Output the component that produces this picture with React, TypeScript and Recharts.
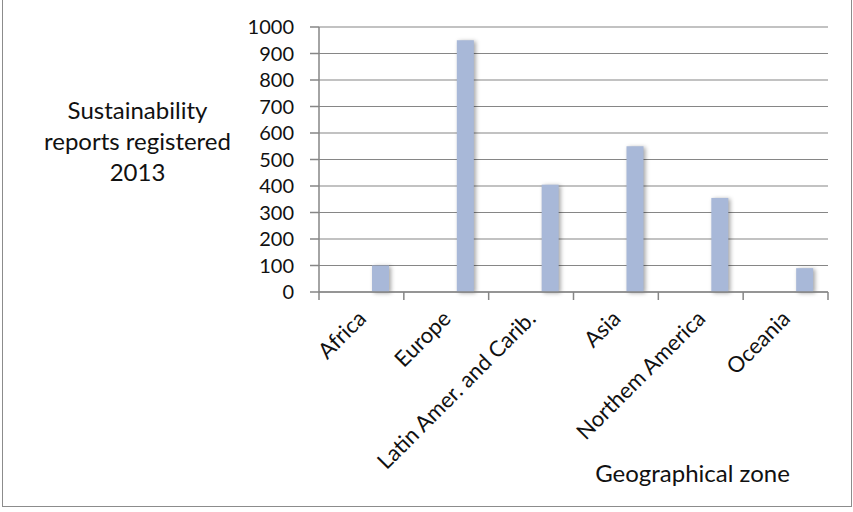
import { BarChart, Bar, XAxis, YAxis, CartesianGrid } from 'recharts';

const categories = ['Africa', 'Europe', 'Latin Amer. and Carib.', 'Asia', 'Northem America', 'Oceania'];
const reports = [100, 950, 405, 550, 355, 90];
const yTicks = [0, 100, 200, 300, 400, 500, 600, 700, 800, 900, 1000];

const data = categories.map((zone, i) => ({ zone, s1: null, s2: null, reports: reports[i] }));

const W = 853;
const H = 512;
const MARGIN = { top: 27, right: 25, left: 0, bottom: 0 };
const Y_AXIS_W = 319;
const X_AXIS_H = 220;
const PLOT_W = W - MARGIN.left - MARGIN.right - Y_AXIS_W;
const FONT = 'Lato, "Open Sans", sans-serif';
const AXIS = '#868686';

function CategoryTick({ x, y, payload, index }) {
  const bw = PLOT_W / categories.length;
  const last = index === categories.length - 1;
  return (
    <g>
      <line x1={x - bw / 2} x2={x - bw / 2} y1={y} y2={y + 8} stroke={AXIS} strokeWidth={1.5} />
      {last && <line x1={x + bw / 2} x2={x + bw / 2} y1={y} y2={y + 8} stroke={AXIS} strokeWidth={1.5} />}
      <text
        x={x + 6}
        y={y + 28}
        textAnchor="end"
        transform={`rotate(-45 ${x + 6} ${y + 28})`}
        fontSize={22}
        fontFamily={FONT}
        fill="#111"
      >
        {payload.value}
      </text>
    </g>
  );
}

function ShadowBar({ x, y, width, height, fill }) {
  if (!height) return null;
  return (
    <rect
      x={x}
      y={y}
      width={width}
      height={height}
      fill={fill}
      style={{ filter: 'drop-shadow(2px 1px 2px rgba(0,0,0,0.35))' }}
    />
  );
}

export default function App() {
  return (
    <div
      style={{
        position: 'absolute',
        left: 0,
        top: 0,
        width: W,
        height: H,
        background: '#fff',
        fontFamily: FONT,
      }}
    >
      <div
        style={{
          position: 'absolute',
          left: 2,
          top: -2,
          width: W - 5,
          height: H - 5,
          borderLeft: '1.5px solid #8c8c8c',
          borderRight: '1.5px solid #8c8c8c',
          borderBottom: '1.5px solid #8c8c8c',
          borderTop: '1px solid #c8c8c8',
        }}
      />
      <div
        style={{
          position: 'absolute',
          left: 25,
          top: 94,
          width: 225,
          textAlign: 'center',
          fontSize: 24,
          lineHeight: '31px',
          color: '#111',
        }}
      >
        Sustainability
        <br />
        reports registered
        <br />
        2013
      </div>
      <div
        style={{
          position: 'absolute',
          left: 560,
          top: 458,
          width: 265,
          textAlign: 'center',
          fontSize: 24,
          color: '#111',
        }}
      >
        Geographical zone
      </div>
      <BarChart
        width={W}
        height={H}
        data={data}
        margin={MARGIN}
        barSize={17}
        barGap={2}
        style={{ position: 'absolute', left: 0, top: 0 }}
      >
        <CartesianGrid vertical={false} stroke={AXIS} strokeWidth={1.2} />
        <XAxis
          dataKey="zone"
          height={X_AXIS_H}
          interval={0}
          tickLine={false}
          tickSize={0}
          tickMargin={0}
          stroke={AXIS}
          strokeWidth={1.5}
          tick={<CategoryTick />}
        />
        <YAxis
          width={Y_AXIS_W}
          domain={[0, 1000]}
          ticks={yTicks}
          interval={0}
          tickSize={9}
          tickMargin={16}
          stroke={AXIS}
          strokeWidth={1.5}
          tick={{ fontSize: 20, fontFamily: FONT, fill: '#111' }}
        />
        <Bar dataKey="s1" fill="#a8b8d8" isAnimationActive={false} />
        <Bar dataKey="s2" fill="#a8b8d8" isAnimationActive={false} />
        <Bar dataKey="reports" fill="#a8b8d8" shape={<ShadowBar />} isAnimationActive={false} />
      </BarChart>
    </div>
  );
}
